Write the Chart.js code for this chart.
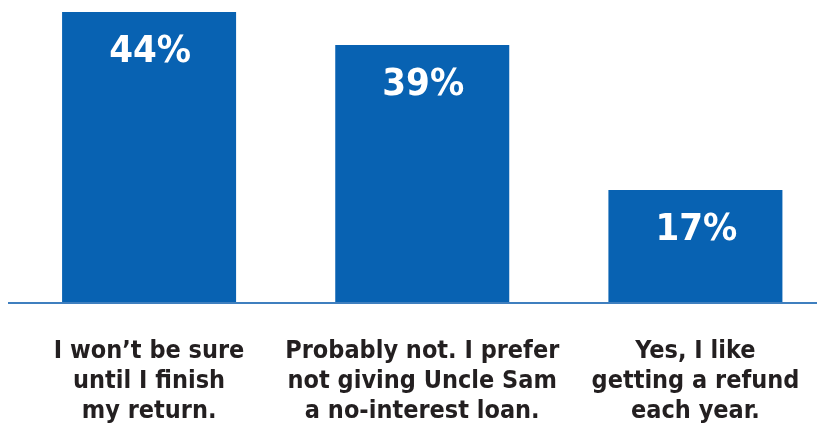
<!DOCTYPE html>
<html>
<head>
<meta charset="utf-8">
<script src="https://cdn.jsdelivr.net/npm/chart.js@4.4.1/dist/chart.umd.min.js"></script>
<style>
html,body{margin:0;padding:0;background:#fff;overflow:hidden;}
#wrap{width:817px;height:425px;position:relative;overflow:hidden;}
</style>
</head>
<body>
<div id="wrap"><canvas id="c" width="850" height="425"></canvas></div>
<script>
const categories = [
  ["I won\u2019t be sure", "until I finish", "my return."],
  ["Probably not. I prefer", "not giving Uncle Sam", "a no-interest loan."],
  ["Yes, I like", "getting a refund", "each year."]
];
const values = [44, 39, 17];
const valueLabels = ["44%", "39%", "17%"];

const BLUE = "#0862b2";
const FONT = "'DejaVu Sans Condensed', 'Liberation Sans Narrow', sans-serif";

const extras = {
  id: 'extras',
  afterDatasetsDraw(chart) {
    const ctx = chart.ctx;
    const area = chart.chartArea;
    ctx.save();
    // baseline
    ctx.strokeStyle = "#3f7fbf";
    ctx.lineWidth = 2;
    ctx.beginPath();
    ctx.moveTo(8, area.bottom + 1);
    ctx.lineTo(chart.width, area.bottom + 1);
    ctx.stroke();
    // value labels
    const meta = chart.getDatasetMeta(0);
    ctx.fillStyle = "#ffffff";
    ctx.font = "bold 38px " + FONT;
    ctx.textAlign = "center";
    ctx.textBaseline = "middle";
    meta.data.forEach((bar, i) => {
      ctx.fillText(valueLabels[i], bar.x + 1, bar.y + 40);
    });
    ctx.restore();
  }
};

new Chart(document.getElementById('c'), {
  type: 'bar',
  data: {
    labels: categories,
    datasets: [{
      data: values,
      backgroundColor: BLUE,
      borderWidth: 0,
      barPercentage: 0.637,
      categoryPercentage: 1.0
    }]
  },
  options: {
    responsive: false,
    animation: false,
    devicePixelRatio: 1,
    layout: { padding: { left: 12.5, right: 18, top: 12, bottom: 0 } },
    plugins: { legend: { display: false }, tooltip: { enabled: false } },
    scales: {
      x: {
        grid: { display: false, drawTicks: false },
        border: { display: false },
        ticks: {
          color: "#231f20",
          font: { family: FONT, weight: 'bold', size: 25, lineHeight: 1.2 },
          padding: 34,
          maxRotation: 0,
          autoSkip: false
        },
        afterFit(scale) { scale.height = 123; }
      },
      y: {
        display: false,
        min: 0,
        max: 44
      }
    }
  },
  plugins: [extras]
});
</script>
</body>
</html>
